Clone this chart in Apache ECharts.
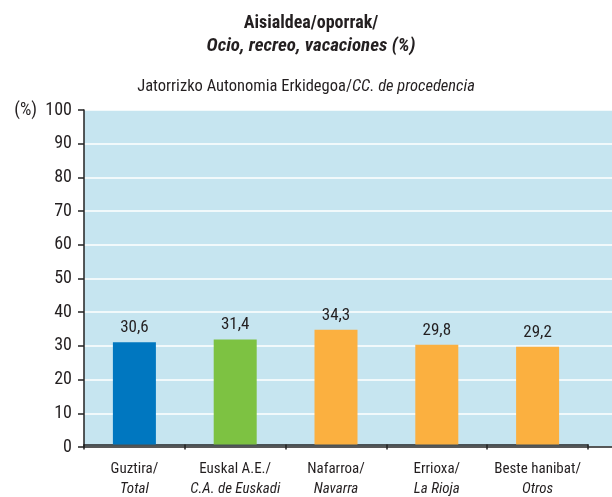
<!DOCTYPE html>
<html><head><meta charset="utf-8">
<script src="https://cdn.jsdelivr.net/npm/echarts@6/dist/echarts.min.js"></script>
<style>html,body{margin:0;padding:0;background:#fff}#c{width:612px;height:497px}</style>
</head><body><div id="c"></div>
<script>
const categoriesTop = ['Guztira/', 'Euskal A.E./', 'Nafarroa/', 'Errioxa/', 'Beste hanibat/'];
const categoriesBottom = ['Total', 'C.A. de Euskadi', 'Navarra', 'La Rioja', 'Otros'];
const values = [30.6, 31.4, 34.3, 29.8, 29.2];
const barColors = ['#0077c0', '#7dc242', '#fbb040', '#fbb040', '#fbb040'];

const FONT = '"Roboto Condensed", "DejaVu Sans Condensed", sans-serif';
const TXT = '#231f20';
const chart = echarts.init(document.getElementById('c'), null, {renderer: 'canvas'});
chart.setOption({
  animation: false,
  title: [{
    text: '{b|Aisialdea/oporrak/}\n{bi|Ocio, recreo, vacaciones (%)}',
    left: 306, top: 7, textAlign: 'center',
    textStyle: {
      rich: {
        b: {fontFamily: FONT, fontWeight: 'bold', fontSize: 18, color: TXT, lineHeight: 23, align: 'center'},
        bi: {fontFamily: FONT, fontWeight: 'bold', fontStyle: 'italic', fontSize: 19, color: TXT, lineHeight: 23, align: 'center'}
      }
    }
  }, {
    text: '{n|Jatorrizko Autonomia Erkidegoa/}{i|CC. de procedencia}',
    left: 301, top: 73, textAlign: 'center',
    textStyle: {
      fontWeight: 'normal',
      rich: {
        n: {fontFamily: FONT, fontWeight: 'normal', fontSize: 16.5, color: TXT},
        i: {fontFamily: FONT, fontWeight: 'normal', fontStyle: 'italic', fontSize: 16.5, color: TXT}
      }
    }
  }],
  grid: [
    {left: 84, right: 0, top: 110, bottom: 50, show: true, backgroundColor: '#c6e5f0', borderWidth: 0, containLabel: false},
    {left: 84, width: 504, top: 110, bottom: 50, containLabel: false}
  ],
  xAxis: [
    {gridIndex: 0, type: 'value', min: 0, max: 1, show: true,
     axisLine: {show: true, onZero: false, lineStyle: {color: '#222', width: 1.5}},
     axisTick: {show: false}, axisLabel: {show: false}, splitLine: {show: false}},
    {gridIndex: 1, type: 'category', data: categoriesTop,
     axisLine: {show: true, lineStyle: {color: '#222', width: 1.5}},
     axisTick: {show: true, length: 5, lineStyle: {color: '#222', width: 1.5}},
     axisLabel: {
       interval: 0, margin: 15,
       formatter: function (v, i) { return '{a|' + categoriesTop[i] + '}\n{b|' + categoriesBottom[i] + '}'; },
       rich: {
         a: {fontFamily: FONT, fontSize: 15, color: TXT, lineHeight: 20},
         b: {fontFamily: FONT, fontStyle: 'italic', fontSize: 15, color: TXT, lineHeight: 20}
       }
     }}
  ],
  yAxis: [
    {gridIndex: 0, type: 'value', min: 0, max: 100, interval: 10,
     axisLine: {show: true, lineStyle: {color: '#222', width: 1.5}},
     axisTick: {show: true, length: 6, lineStyle: {color: '#222', width: 1.5}},
     axisLabel: {
       margin: 12, fontFamily: FONT, fontSize: 18, color: TXT,
       formatter: function (v) { return v === 100 ? '(%)  100' : String(v); }
     },
     splitLine: {show: true, lineStyle: {color: '#ffffff', width: 1.5}}},
    {gridIndex: 1, type: 'value', min: 0, max: 100, interval: 10, show: false, splitLine: {show: false}}
  ],
  series: [{
    type: 'bar', xAxisIndex: 1, yAxisIndex: 1,
    barWidth: 43,
    data: values.map((v, i) => ({value: v, itemStyle: {color: barColors[i]}})),
    label: {
      show: true, position: 'top', distance: 6,
      fontFamily: FONT, fontSize: 17, color: TXT,
      formatter: p => p.value.toFixed(1).replace('.', ',')
    }
  }]
});
</script></body></html>
